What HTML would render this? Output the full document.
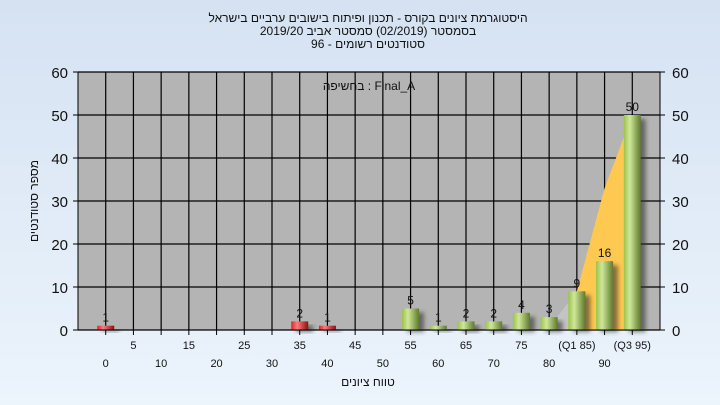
<!DOCTYPE html>
<html><head><meta charset="utf-8"><style>
html,body{margin:0;padding:0}
body{width:720px;height:405px;overflow:hidden;background:linear-gradient(#d5e2f2,#ecf4fc);font-family:"Liberation Sans","Noto Sans CJK SC",sans-serif}
svg{display:block}
</style></head><body>
<svg id="c" width="720" height="405" xmlns="http://www.w3.org/2000/svg" font-family="Liberation Sans, sans-serif">
<defs>
<linearGradient id="gG" x1="0" x2="1"><stop offset="0" stop-color="#9cc24a"/><stop offset="0.35" stop-color="#cfe79a"/><stop offset="1" stop-color="#5f7a2c"/></linearGradient>
<linearGradient id="gR" x1="0" x2="1"><stop offset="0" stop-color="#d8262a"/><stop offset="0.35" stop-color="#ff7a7a"/><stop offset="1" stop-color="#8a1010"/></linearGradient>
<filter id="sh" x="-50%" y="-20%" width="200%" height="150%"><feGaussianBlur stdDeviation="2"/></filter>
</defs>
<g text-anchor="middle" font-size="12" fill="#111">
<text x="368" y="22">היסטוגרמת ציונים בקורס - תכנון ופיתוח בישובים ערביים בישראל</text>
<text x="368" y="35">בסמסטר  (02/2019)  סמסטר אביב 2019/20</text>
<text x="368" y="48">סטודנטים רשומים - 96</text>
</g>
<rect x="78" y="72" width="582" height="258" fill="#b4b4b4"/>
<g id="grid"></g>
<polygon id="area" fill="#ffc850"/>
<g id="bars"></g>
<g id="axes"></g>
<text x="369" y="90" text-anchor="middle" font-size="12" fill="#111">בחשיפה : Final_A</text>
<text x="368" y="386" text-anchor="middle" font-size="12" fill="#111">טווח ציונים</text>
<text transform="translate(38,201) rotate(-90)" text-anchor="middle" font-size="12" fill="#111">מספר סטודנטים</text>
</svg>
<script>
const categories=[0,5,10,15,20,25,30,35,40,45,50,55,60,65,70,75,80,85,90,95];
const catLabels=["0","5","10","15","20","25","30","35","40","45","50","55","60","65","70","75","80","(Q1 85)","90","(Q3 95)"];
const counts=[1,0,0,0,0,0,0,2,1,0,0,5,1,2,2,4,3,9,16,50];
const yTicks=[0,10,20,30,40,50,60];
const NS="http://www.w3.org/2000/svg";
const L=78,R=660,T=72,B=330,step=(R-L)/21;
const x=i=>L+step*(i+1);
const y=v=>B-(v/60)*(B-T);
function mk(t,a,p){const e=document.createElementNS(NS,t);for(const k in a)e.setAttribute(k,a[k]);p.appendChild(e);return e;}
const grid=document.getElementById('grid'),bars=document.getElementById('bars'),axes=document.getElementById('axes');
for(let k=1;k<=20;k++){const l=mk('line',{x1:x(k-1),x2:x(k-1),y1:T,y2:B,stroke:'#000','stroke-width':1.2},grid);

}
yTicks.forEach(v=>{const l=mk('line',{x1:L,x2:R,y1:y(v),y2:y(v),stroke:'#000','stroke-width':1.2},grid);


const t1=mk('text',{x:68,y:y(v)+6,'text-anchor':'end','font-size':15,fill:'#111'},axes);t1.textContent=v;


const t2=mk('text',{x:672,y:y(v)+6,'font-size':15,fill:'#111'},axes);t2.textContent=v;


mk('line',{x1:L-5,x2:L,y1:y(v),y2:y(v),stroke:'#000'},axes);
mk('line',{x1:R,x2:R+5,y1:y(v),y2:y(v),stroke:'#000'},axes);});
mk('line',{x1:L,x2:L,y1:T,y2:B,stroke:'#000'},axes);
mk('line',{x1:R,x2:R,y1:T,y2:B,stroke:'#000'},axes);
mk('line',{x1:L,x2:R,y1:B,y2:B,stroke:'#000'},axes);
const q1=17,q3=19;
let pts=[[x(q1),y(counts[q1])],[x(q1+1),y((counts[q1+1]+counts[q3])/2)],[x(q3),y(counts[q3])],[x(q3)+8,B],[x(q1)-8,B]];
document.getElementById('area').setAttribute('points',pts.map(p=>p.join(',')).join(' '));
mk('polygon',{points:[[x(q1-1)+8,y(counts[q1-1])],[x(q1),y(counts[q1])],[x(q1)-8,B],[x(q1-1)+8,B]].map(p=>p.join(',')).join(' '),fill:'#c4c4c4'},grid);
categories.forEach((c,i)=>{
 const cx=x(i);
 mk('line',{x1:cx,x2:cx,y1:B,y2:B+5,stroke:'#000'},axes);
 const tl=mk('text',{x:cx,y:i%2?349:367,'text-anchor':'middle','font-size':11,fill:'#111'},axes);tl.textContent=catLabels[i];
 
 
 const v=counts[i];if(!v)return;
 const w=17,h=B-y(v);
 mk('rect',{x:cx-w/2+5,y:y(v)+4,width:w,height:h-2,fill:'#333',opacity:0.6,filter:'url(#sh)'},bars);
 const b=mk('rect',{x:cx-w/2,y:y(v),width:w,height:h,fill:c<55?'url(#gR)':'url(#gG)'},bars);
 
 
 const vl=mk('text',{x:cx,y:y(v)-4,'text-anchor':'middle','font-size':12,fill:'#111'},bars);vl.textContent=v;
 
 
});
</script>
</body></html>
